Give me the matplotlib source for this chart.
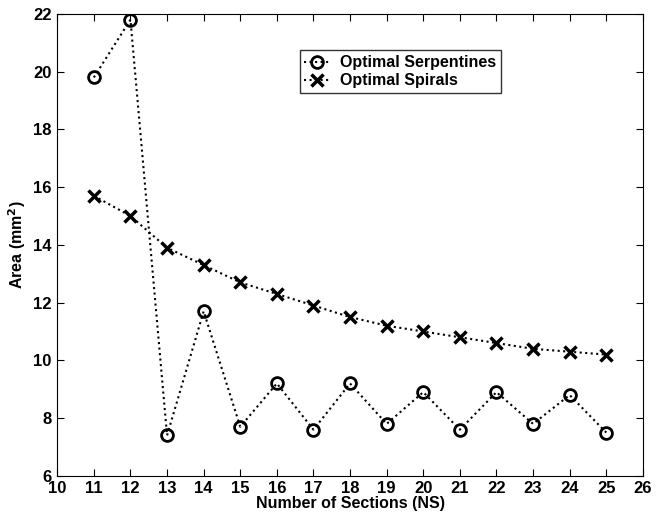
import matplotlib
matplotlib.use("Agg")
import matplotlib.pyplot as plt

plt.rcParams['font.family'] = ['Liberation Sans', 'DejaVu Sans']
plt.rcParams['font.weight'] = 'bold'

sections = [11, 12, 13, 14, 15, 16, 17, 18, 19, 20, 21, 22, 23, 24, 25]
serpentines = [19.8, 21.8, 7.4, 11.7, 7.7, 9.2, 7.6, 9.2, 7.8, 8.9, 7.6, 8.9, 7.8, 8.8, 7.5]
spirals = [15.7, 15.0, 13.9, 13.3, 12.7, 12.3, 11.9, 11.5, 11.2, 11.0, 10.8, 10.6, 10.4, 10.3, 10.2]

fig = plt.figure(figsize=(6.58, 5.15), dpi=100)
ax = fig.add_axes([0.087, 0.076, 0.89, 0.897])

ax.plot(sections, serpentines, 'k:', marker='o', markersize=8.5, markerfacecolor='none',
        markeredgewidth=2, linewidth=1.5, label='Optimal Serpentines')
ax.plot(sections, spirals, 'k:', marker='x', markersize=8,
        markeredgewidth=2.5, linewidth=1.5, label='Optimal Spirals')

ax.set_xlim(10, 26)
ax.set_ylim(6, 22)
ax.set_xticks(range(10, 27))
ax.set_yticks(range(6, 23, 2))
ax.tick_params(direction='in', top=True, right=True, labelsize=12, length=5, pad=4)
for lbl in ax.get_xticklabels() + ax.get_yticklabels():
    lbl.set_fontweight('bold')

ax.set_xlabel('Number of Sections (NS)', fontsize=11.5, fontweight='bold', labelpad=0)
ax.set_ylabel('Area (mm$^\\mathbf{2}$)', fontsize=11.5, fontweight='bold', labelpad=4)

leg = ax.legend(loc='upper left', bbox_to_anchor=(0.414, 0.921), fontsize=11.5,
                frameon=True, fancybox=False, edgecolor='k', handlelength=1.6,
                borderpad=0.3, labelspacing=0.2, handletextpad=0.6, borderaxespad=0)
leg.get_frame().set_linewidth(1.0)

fig.savefig('out.png', dpi=100)
